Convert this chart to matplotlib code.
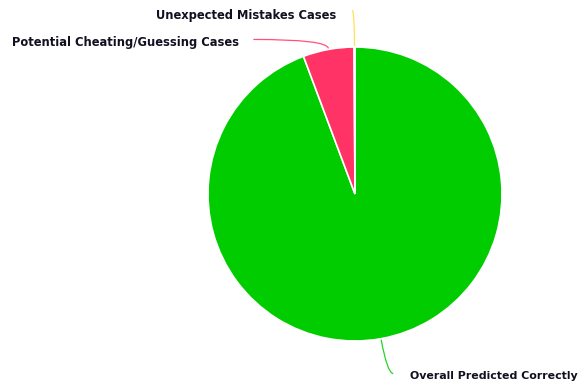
import numpy as np
import matplotlib
matplotlib.use("Agg")
import matplotlib.pyplot as plt
from matplotlib.path import Path
from matplotlib.patches import PathPatch

# Share of cases per outcome (percent)
labels = ["Overall Predicted Correctly", "Potential Cheating/Guessing Cases", "Unexpected Mistakes Cases"]
values = [94.3, 5.6, 0.1]
colors = ["#00CC00", "#FF3366", "#FFDD33"]

W, H = 582, 384
fig = plt.figure(figsize=(W / 100, H / 100), dpi=100)
ax = fig.add_axes([0, 0, 1, 1])

cx, cy, r = 355, 190, 147
wedges, _ = ax.pie(values, colors=colors, startangle=90, counterclock=False,
                   center=(cx, cy), radius=r, frame=True,
                   wedgeprops=dict(edgecolor="white", linewidth=1.2))
ax.set_xlim(0, W)
ax.set_ylim(0, H)
ax.set_aspect("equal")
ax.axis("off")


def edge_point(w):
    mid = np.deg2rad((w.theta1 + w.theta2) / 2)
    return cx + r * np.cos(mid), cy + r * np.sin(mid)


def connector(p0, corner, end, color):
    verts = [p0, corner, end]
    codes = [Path.MOVETO, Path.CURVE3, Path.CURVE3]
    ax.add_patch(PathPatch(Path(verts, codes), facecolor="none",
                           edgecolor=color, linewidth=0.9, alpha=0.85))


text_kw = dict(fontweight="bold", color="#101020",
               family="DejaVu Sans", va="center")

# Overall Predicted Correctly (bottom)
x0, y0 = edge_point(wedges[0])
connector((x0, y0 - 1), (x0 + 6, y0 - 34), (x0 + 12, y0 - 35), colors[0])
ax.text(W - 4, y0 - 37, labels[0], ha="right", fontsize=7.9, **text_kw)

# Potential Cheating/Guessing Cases (upper left)
x1, y1 = edge_point(wedges[1])
connector((x1, y1 + 1), (x1 - 1, y1 + 10), (x1 - 75, y1 + 10), colors[1])
ax.text(x1 - 89, y1 + 7, labels[1], ha="right", fontsize=8.3, **text_kw)

# Unexpected Mistakes Cases (top)
x2, y2 = edge_point(wedges[2])
connector((x2, y2 + 1), (x2, y2 + 30), (x2 - 2, y2 + 37), colors[2])
ax.text(x2 - 18, y2 + 32, labels[2], ha="right", fontsize=8.3, **text_kw)

fig.savefig("out.png", dpi=100, facecolor="white")
